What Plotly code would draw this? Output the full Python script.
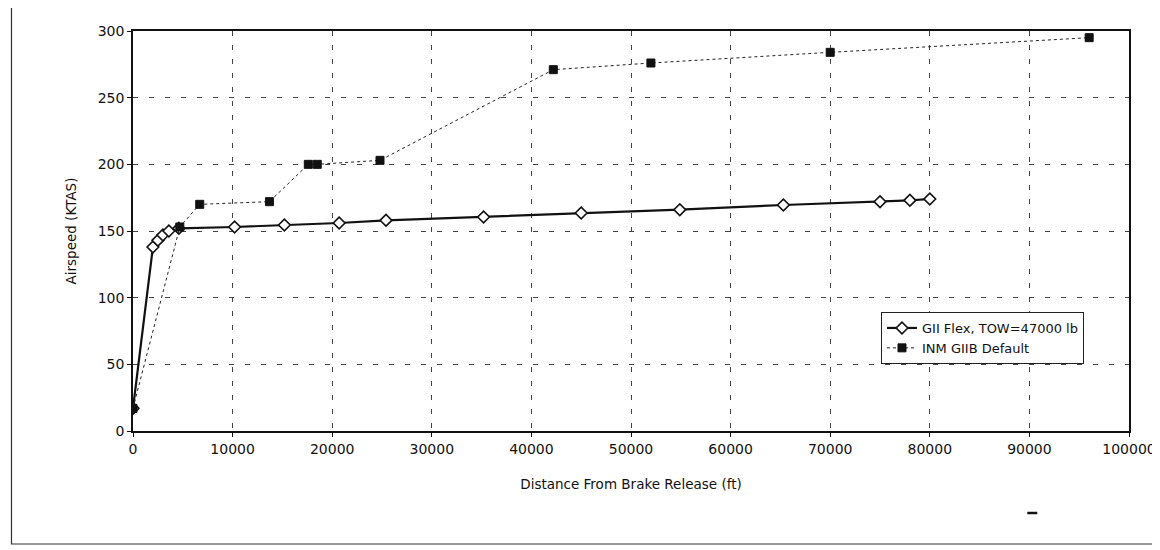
import plotly.graph_objects as go

# Series 1: GII Flex, TOW=47000 lb
flex_x = [0, 2000, 2500, 3000, 3600, 4600, 10200, 15200, 20700, 25400, 35200, 45000, 54900, 65300, 75000, 78000, 80000]
flex_y = [17, 138, 143, 147, 150, 152, 153, 154.5, 156, 158, 160.5, 163.5, 166, 169.5, 172, 173, 174]

# Series 2: INM GIIB Default
inm_x = [0, 4700, 6700, 13700, 17600, 18500, 24800, 42200, 52000, 70000, 96000]
inm_y = [17, 153, 170, 172, 200, 200, 203, 271, 276, 284, 295]

x_ticks = [0, 10000, 20000, 30000, 40000, 50000, 60000, 70000, 80000, 90000, 100000]
y_ticks = [0, 50, 100, 150, 200, 250, 300]

FONT = "DejaVu Sans, Arial, sans-serif"

fig = go.Figure()
fig.add_trace(go.Scatter(
    x=flex_x, y=flex_y, mode="lines+markers", name="GII Flex, TOW=47000 lb",
    line=dict(color="#111", width=2.2),
    marker=dict(symbol="diamond", size=9, color="white", line=dict(color="#111", width=1.6)),
))
fig.add_trace(go.Scatter(
    x=inm_x, y=inm_y, mode="lines+markers", name="INM GIIB Default",
    line=dict(color="#222", width=1, dash="dot"),
    marker=dict(symbol="square", size=8, color="#111", line=dict(color="#111", width=1)),
))

fig.update_layout(
    width=1160, height=550,
    margin=dict(l=125, r=36, t=23, b=127),
    paper_bgcolor="white", plot_bgcolor="white",
    font=dict(family=FONT, size=13, color="#111"),
    showlegend=True,
    legend=dict(
        x=0.751, y=0.2975, xanchor="left", yanchor="top",
        bgcolor="white", bordercolor="#222", borderwidth=1,
        font=dict(family=FONT, size=13, color="#111"),
        tracegroupgap=0, itemwidth=30,
    ),
    xaxis=dict(
        range=[0, 100000], tickvals=x_ticks, ticktext=[str(v) for v in x_ticks],
        showgrid=True, gridcolor="#444", gridwidth=1, griddash="5px,9px",
        showline=True, linecolor="#111", linewidth=1.5, mirror=True,
        ticks="outside", ticklen=4, tickcolor="#111", zeroline=False,
        tickfont=dict(family=FONT, size=14, color="#111"),
        title=dict(text="Distance From Brake Release (ft)", font=dict(family=FONT, size=13.5, color="#111"), standoff=24),
    ),
    yaxis=dict(
        range=[0, 300], tickvals=y_ticks, ticktext=[str(v) for v in y_ticks],
        showgrid=True, gridcolor="#444", gridwidth=1, griddash="5px,11px",
        showline=True, linecolor="#111", linewidth=1.5, mirror=True,
        ticks="outside", ticklen=4, tickcolor="#111", zeroline=False,
        tickfont=dict(family=FONT, size=14, color="#111"),
        title=dict(text="Airspeed (KTAS)", font=dict(family=FONT, size=13.5, color="#111"), standoff=18),
    ),
    shapes=[
        dict(type="rect", xref="paper", yref="paper",
             x0=-0.122, x1=1.025, y0=-0.2825, y1=1.065,
             line=dict(color="#333", width=1.2), fillcolor="rgba(0,0,0,0)", layer="below"),
        dict(type="line", xref="paper", yref="paper",
             x0=(1030 - 133) / 999, x1=(1040 - 133) / 999, y0=(431 - 513) / 400, y1=(431 - 513) / 400,
             line=dict(color="#111", width=2.5)),
    ],
)

fig.write_html("out.html")
